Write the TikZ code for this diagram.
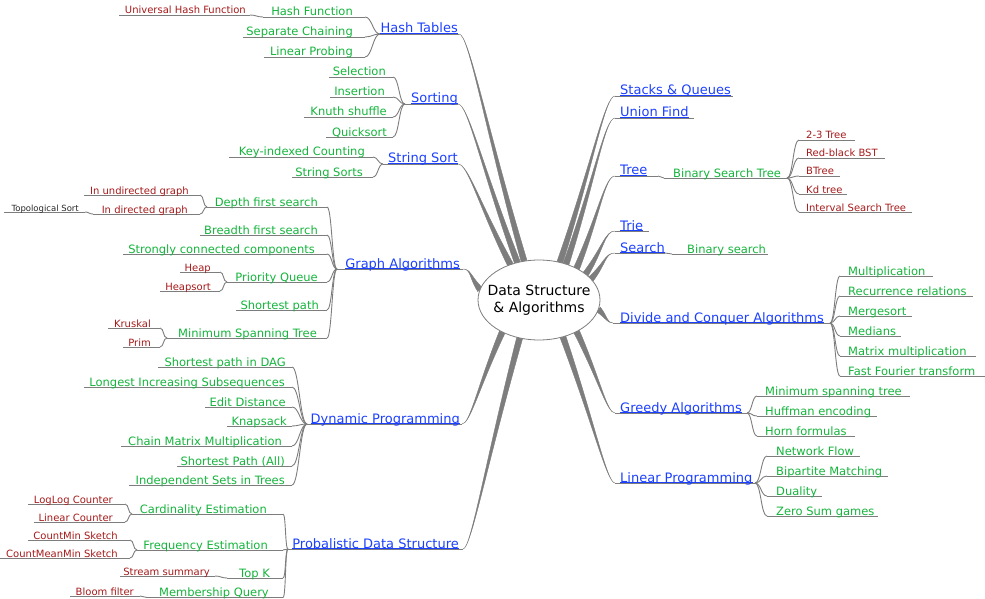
\documentclass[tikz,border=0pt]{standalone}
\usepackage{fontspec}
\setmainfont{DejaVu Sans}
\usetikzlibrary{calc,shapes.geometric}
\pgfdeclarelayer{bg}
\pgfsetlayers{bg,main}
\definecolor{mmblue}{RGB}{28,64,255}
\definecolor{mmgreen}{RGB}{20,180,60}
\definecolor{mmred}{RGB}{165,25,25}
\definecolor{mmline}{RGB}{125,125,125}
\definecolor{mmblack}{RGB}{40,40,40}
\tikzset{
  mmmain/.style={text=mmblue,font=\fontsize{13}{15}\selectfont,inner sep=0pt},
  mmsub/.style={text=mmgreen,font=\fontsize{11.5}{14}\selectfont,inner sep=0pt},
  mmleaf/.style={text=mmred,font=\fontsize{10}{12}\selectfont,inner sep=0pt},
  mmtiny/.style={text=mmblack,font=\fontsize{8.5}{10}\selectfont,inner sep=0pt},
  uline/.style={draw=mmline,line width=0.9pt},
  bluline/.style={draw=mmblue,line width=0.8pt},
  brfill/.style={fill=mmline,draw=mmline,line width=0.4pt},
}
% name, style, xL, xR, y, text x, anchor side, text
\newcommand\mmnode[8]{%
  \coordinate (#1-l) at (#3,#5);
  \coordinate (#1-r) at (#4,#5);
  \draw[uline] (#1-l) -- (#1-r);
  \node[#2,anchor=base #7] (#1) at (#6,#5-1) {#8};}
\newcommand\mmblueline[1]{%
  \draw[bluline] ($(#1.base west)+(0,0.3)$) -- ($(#1.base east)+(0,0.3)$);}
% left side connector: parent, child, control length
\newcommand\lcon[3]{\draw[uline] (#1-l) .. controls +(-#3,0) and +(#3,0) .. (#2-r);}
% right side connector
\newcommand\rcon[3]{\draw[uline] (#1-r) .. controls +(#3,0) and +(-#3,0) .. (#2-l);}
% tapered main branch: root anchor, node joint, first control dx
\newcommand\mmbranch[3]{%
  \coordinate (bq) at ($(#2)!0.4!(#1)$);
  \fill[brfill] (#2) .. controls ($(#2)+(#3,0)$) and ($(bq)!1.1pt!90:(#2)$) ..
    ($(#1)!3pt!90:(#2)$) -- ($(#1)!3pt!-90:(#2)$) .. controls ($(bq)!1.1pt!-90:(#2)$) and ($(#2)+(#3,0)$) .. (#2) -- cycle;}
\begin{document}
\begin{tikzpicture}[x=1pt,y=-1pt]
\useasboundingbox (0,0) rectangle (985,599);
\node[ellipse,draw=mmline,fill=white,line width=0.8pt,inner xsep=-9pt,inner ysep=12.5pt,minimum width=122pt,minimum height=80pt,outer sep=0pt,align=center,font=\fontsize{14}{17}\selectfont] (root) at (539,300) {Data Structure\\\& Algorithms};

% ---- left main nodes
\mmnode{hash}{mmmain}{380}{459}{34}{458}{east}{Hash Tables}
\mmnode{sort}{mmmain}{405}{458}{104}{458}{east}{Sorting}
\mmnode{strsort}{mmmain}{383}{458}{164}{458}{east}{String Sort}
\mmnode{graph}{mmmain}{337}{463}{269}{460}{east}{Graph Algorithms}
\mmnode{dp}{mmmain}{307}{462}{424}{460}{east}{Dynamic Programming}
\mmnode{pds}{mmmain}{288}{463}{549}{459}{east}{Probalistic Data Structure}
% ---- right main nodes
\mmnode{stacks}{mmmain}{615}{733}{96}{620}{west}{Stacks \& Queues}
\mmnode{union}{mmmain}{615}{694}{118}{620}{west}{Union Find}
\mmnode{tree}{mmmain}{615}{658}{176}{620}{west}{Tree}
\mmnode{trie}{mmmain}{615}{649}{231}{620}{west}{Trie}
\mmnode{search}{mmmain}{615}{665}{253}{620}{west}{Search}
\mmnode{divide}{mmmain}{613}{830}{323}{620}{west}{Divide and Conquer Algorithms}
\mmnode{greedy}{mmmain}{615}{747}{413}{620}{west}{Greedy Algorithms}
\mmnode{linear}{mmmain}{615}{755}{483}{620}{west}{Linear Programming}
\foreach \n in {hash,sort,strsort,graph,dp,pds,stacks,union,tree,trie,search,divide,greedy,linear}{\mmblueline{\n}}

% ---- Hash Tables
\mmnode{hashfn}{mmsub}{263}{365}{17}{353}{east}{Hash Function}
\mmnode{sepch}{mmsub}{243}{365}{37}{353}{east}{Separate Chaining}
\mmnode{linprob}{mmsub}{264}{365}{57}{353}{east}{Linear Probing}
\mmnode{uhf}{mmleaf}{119}{250}{15}{246}{east}{Universal Hash Function}
\lcon{hash}{hashfn}{7}
\lcon{hash}{sepch}{7}
\lcon{hash}{linprob}{7}
\lcon{hashfn}{uhf}{6}
% ---- Sorting
\mmnode{selection}{mmsub}{329}{393}{77}{386}{east}{Selection}
\mmnode{insertion}{mmsub}{330}{393}{97}{385}{east}{Insertion}
\mmnode{knuth}{mmsub}{304}{393}{117}{387}{east}{Knuth shuffle}
\mmnode{quick}{mmsub}{326}{393}{137}{387}{east}{Quicksort}
\lcon{sort}{selection}{6}
\lcon{sort}{insertion}{6}
\lcon{sort}{knuth}{6}
\lcon{sort}{quick}{6}
% ---- String Sort
\mmnode{keyidx}{mmsub}{229}{373}{157}{365}{east}{Key-indexed Counting}
\mmnode{strsorts}{mmsub}{292}{373}{177}{363}{east}{String Sorts}
\lcon{strsort}{keyidx}{5}
\lcon{strsort}{strsorts}{5}
% ---- Graph Algorithms
\mmnode{dfs}{mmsub}{207}{327}{207}{318}{east}{Depth first search}
\mmnode{undir}{mmleaf}{84}{200}{195}{189}{east}{In undirected graph}
\mmnode{dir}{mmleaf}{93}{200}{214}{188}{east}{In directed graph}
\mmnode{topo}{mmtiny}{4}{85}{212}{79}{east}{Topological Sort}
\mmnode{bfs}{mmsub}{200}{327}{235}{318}{east}{Breadth first search}
\mmnode{scc}{mmsub}{123}{327}{254}{315}{east}{Strongly connected components}
\mmnode{pq}{mmsub}{227}{327}{282}{318}{east}{Priority Queue}
\mmnode{heap}{mmleaf}{180}{220}{272}{211}{east}{Heap}
\mmnode{heapsort}{mmleaf}{160}{220}{291}{211}{east}{Heapsort}
\mmnode{sp}{mmsub}{236}{327}{310}{319}{east}{Shortest path}
\mmnode{mst}{mmsub}{167}{327}{338}{317}{east}{Minimum Spanning Tree}
\mmnode{kruskal}{mmleaf}{108}{160}{328}{151}{east}{Kruskal}
\mmnode{prim}{mmleaf}{123}{160}{347}{151}{east}{Prim}
\foreach \c in {dfs,bfs,scc,pq,sp,mst}{\lcon{graph}{\c}{5}}
\lcon{dfs}{undir}{4}
\lcon{dfs}{dir}{4}
\lcon{dir}{topo}{4}
\lcon{pq}{heap}{4}
\lcon{pq}{heapsort}{4}
\lcon{mst}{kruskal}{4}
\lcon{mst}{prim}{4}
% ---- Dynamic Programming
\mmnode{spdag}{mmsub}{158}{292}{367}{286}{east}{Shortest path in DAG}
\mmnode{lis}{mmsub}{84}{292}{387}{285}{east}{Longest Increasing Subsequences}
\mmnode{edit}{mmsub}{205}{292}{407}{286}{east}{Edit Distance}
\mmnode{knap}{mmsub}{227}{292}{426}{287}{east}{Knapsack}
\mmnode{chain}{mmsub}{121}{292}{446}{282}{east}{Chain Matrix Multiplication}
\mmnode{spall}{mmsub}{177}{292}{466}{285}{east}{Shortest Path (All)}
\mmnode{indep}{mmsub}{129}{292}{485}{285}{east}{Independent Sets in Trees}
\foreach \c in {spdag,lis,edit,knap,chain,spall,indep}{\lcon{dp}{\c}{7}}
% ---- Probalistic Data Structure
\mmnode{card}{mmsub}{132}{283}{514}{267}{east}{Cardinality Estimation}
\mmnode{loglog}{mmleaf}{28}{125}{504}{113}{east}{LogLog Counter}
\mmnode{lincount}{mmleaf}{34}{125}{522}{113}{east}{Linear Counter}
\mmnode{freq}{mmsub}{137}{283}{550}{268}{east}{Frequency Estimation}
\mmnode{cms}{mmleaf}{28}{130}{540}{118}{east}{CountMin Sketch}
\mmnode{cmms}{mmleaf}{0}{130}{558}{118}{east}{CountMeanMin Sketch}
\mmnode{topk}{mmsub}{227}{283}{578}{270}{east}{Top K}
\mmnode{ss}{mmleaf}{120}{215}{576}{210}{east}{Stream summary}
\mmnode{member}{mmsub}{147}{283}{597.5}{269}{east}{Membership Query}
\mmnode{bloom}{mmleaf}{70}{140}{596}{134}{east}{Bloom filter}
\foreach \c in {card,freq,topk,member}{\lcon{pds}{\c}{3}}
\lcon{card}{loglog}{4}
\lcon{card}{lincount}{4}
\lcon{freq}{cms}{4}
\lcon{freq}{cmms}{4}
\lcon{topk}{ss}{6}
\lcon{member}{bloom}{4}
% ---- Tree / Search
\mmnode{bst}{mmsub}{664}{787}{178}{673}{west}{Binary Search Tree}
\rcon{tree}{bst}{3}
\mmnode{t23}{mmleaf}{799}{855}{140}{806}{west}{2-3 Tree}
\mmnode{rbbst}{mmleaf}{799}{885}{158}{806}{west}{Red-black BST}
\mmnode{btree}{mmleaf}{799}{840}{176}{806}{west}{BTree}
\mmnode{kd}{mmleaf}{799}{847}{194}{806}{west}{Kd tree}
\mmnode{ist}{mmleaf}{799}{912}{212}{806}{west}{Interval Search Tree}
\foreach \c in {t23,rbbst,btree,kd,ist}{\rcon{bst}{\c}{6}}
\mmnode{bsearch}{mmsub}{672}{768}{254}{687}{west}{Binary search}
\rcon{search}{bsearch}{3}
% ---- Divide and Conquer
\mmnode{mult}{mmsub}{840}{933}{276}{848}{west}{Multiplication}
\mmnode{rec}{mmsub}{840}{973}{296}{848}{west}{Recurrence relations}
\mmnode{merge}{mmsub}{840}{912}{316}{848}{west}{Mergesort}
\mmnode{med}{mmsub}{840}{901}{336}{848}{west}{Medians}
\mmnode{matmul}{mmsub}{840}{976}{356}{848}{west}{Matrix multiplication}
\mmnode{fft}{mmsub}{840}{985}{376}{848}{west}{Fast Fourier transform}
\foreach \c in {mult,rec,merge,med,matmul,fft}{\rcon{divide}{\c}{5}}
% ---- Greedy
\mmnode{mstg}{mmsub}{757}{910}{396}{765}{west}{Minimum spanning tree}
\mmnode{huff}{mmsub}{757}{877}{416}{765}{west}{Huffman encoding}
\mmnode{horn}{mmsub}{757}{855}{436}{765}{west}{Horn formulas}
\foreach \c in {mstg,huff,horn}{\rcon{greedy}{\c}{5}}
% ---- Linear Programming
\mmnode{netflow}{mmsub}{767}{860}{456}{776}{west}{Network Flow}
\mmnode{bip}{mmsub}{767}{888}{476}{776}{west}{Bipartite Matching}
\mmnode{dual}{mmsub}{767}{822}{496}{776}{west}{Duality}
\mmnode{zero}{mmsub}{767}{878}{516}{776}{west}{Zero Sum games}
\foreach \c in {netflow,bip,dual,zero}{\rcon{linear}{\c}{6}}

% ---- tapered branches from the root
\begin{pgfonlayer}{bg}
\mmbranch{root.111}{hash-r}{10}
\mmbranch{root.120.7}{sort-r}{10}
\mmbranch{root.129.6}{strsort-r}{10}
\mmbranch{root.170.4}{graph-r}{8}
\mmbranch{root.221.6}{dp-r}{8}
\mmbranch{root.243.4}{pds-r}{8}
\mmbranch{root.61.1}{stacks-l}{-10}
\mmbranch{root.53.1}{union-l}{-10}
\mmbranch{root.40.9}{tree-l}{-10}
\mmbranch{root.29.5}{trie-l}{-10}
\mmbranch{root.22}{search-l}{-10}
\mmbranch{root.351.5}{divide-l}{-6}
\mmbranch{root.320.8}{greedy-l}{-8}
\mmbranch{root.303}{linear-l}{-8}
\end{pgfonlayer}
\end{tikzpicture}
\end{document}
